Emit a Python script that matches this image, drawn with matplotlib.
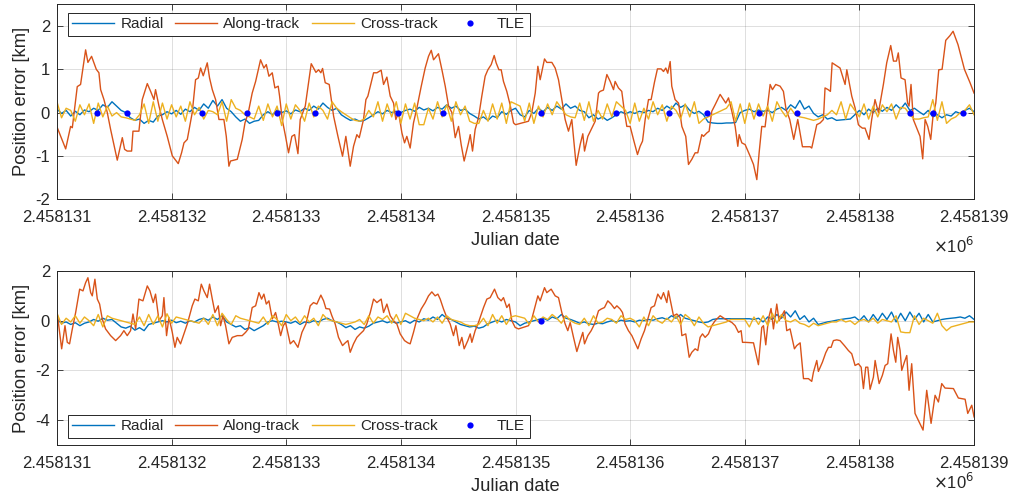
import numpy as np
import matplotlib
matplotlib.use("Agg")
import matplotlib.pyplot as plt

plt.rcParams['font.family'] = ['Liberation Sans', 'DejaVu Sans']
plt.rcParams['axes.unicode_minus'] = False

JD0 = 2458131
xtick_vals = [2458131, 2458132, 2458133, 2458134, 2458135, 2458136, 2458137, 2458138, 2458139]
xtick_labels = ['2.458131', '2.458132', '2.458133', '2.458134', '2.458135',
                '2.458136', '2.458137', '2.458138', '2.458139']

# ---------------- top panel ----------------
top_along_day = [
    0.003, 0.076, 0.119, 0.134, 0.177, 0.206, 0.250, 0.270, 0.302, 0.343, 0.366, 0.381, 0.410, 0.439,
    0.468, 0.526, 0.570, 0.590, 0.613, 0.651, 0.663, 0.715, 0.744, 0.788, 0.817, 0.846, 0.860, 0.890,
    0.919, 0.962, 1.006, 1.058, 1.087, 1.108, 1.137, 1.180, 1.209, 1.233, 1.253, 1.276, 1.311, 1.331,
    1.355, 1.384, 1.413, 1.456, 1.477, 1.500, 1.514, 1.573, 1.587, 1.616, 1.640, 1.669, 1.703, 1.733,
    1.776, 1.805, 1.826, 1.849, 1.878, 1.901, 1.930, 1.942, 1.965, 1.994, 2.020,
    2.049, 2.073, 2.102, 2.122, 2.166, 2.218, 2.238, 2.259, 2.282, 2.302, 2.317, 2.340, 2.375, 2.413,
    2.451, 2.491, 2.520, 2.558, 2.587, 2.616, 2.637, 2.674, 2.695, 2.712, 2.762, 2.791, 2.828, 2.849,
    2.878, 2.907, 2.936, 2.956, 2.980, 3.009, 3.032, 3.052, 3.081, 3.110, 3.140, 3.177, 3.212, 3.241,
    3.265, 3.285, 3.328, 3.358, 3.387, 3.416, 3.445, 3.474, 3.503, 3.526, 3.552, 3.590, 3.605, 3.625,
    3.648, 3.677, 3.706, 3.735, 3.759, 3.788, 3.814, 3.831, 3.855, 3.875, 3.895, 3.924, 3.953, 3.983,
    4.000, 4.113, 4.142, 4.172, 4.195, 4.215, 4.253, 4.273, 4.317, 4.346, 4.375, 4.404, 4.433, 4.462,
    4.491, 4.529, 4.564, 4.587, 4.602, 4.631, 4.660, 4.695, 4.724, 4.738, 4.767, 4.797, 4.826, 4.855,
    4.869, 4.898, 4.927, 4.951, 4.971, 5.000, 5.029, 5.064, 5.087, 5.108, 5.131, 5.160, 5.183, 5.212,
    5.238, 5.270, 5.291, 5.311, 5.328, 5.349, 5.363, 5.392, 5.422, 5.451, 5.485, 5.509, 5.538, 5.567,
    5.590, 5.625, 5.640, 5.669, 5.689, 5.712, 5.741, 5.785, 5.814, 5.834, 5.858, 5.887, 5.916, 5.939,
    5.951, 5.974,
    6.003, 6.047, 6.076, 6.105, 6.125, 6.148, 6.177, 6.221, 6.241, 6.270, 6.308, 6.337, 6.360, 6.392,
    6.427, 6.462, 6.503, 6.570, 6.584, 6.628, 6.657, 6.686, 6.700, 6.727, 6.747, 6.762, 6.831, 6.875,
    6.890, 6.933, 6.962, 6.991, 7.006, 7.026, 7.049, 7.084, 7.107, 7.136, 7.166, 7.209, 7.238, 7.273,
    7.297, 7.323, 7.339, 7.363, 7.398, 7.420, 7.433, 7.450, 7.470, 7.500, 7.529, 7.552, 7.573, 7.596,
    7.622, 7.642, 7.666, 7.692, 7.721, 7.753, 7.790, 7.817, 7.860, 7.916, 7.965, 8.000]
top_along_km = [
    -0.35, -0.84, -0.32, -0.35, 0.60, 0.65, 1.45, 1.16, 1.30, 1.00, 0.92, 0.53, 0.30, 0.00,
    -0.39, -1.10, -0.58, -0.85, -0.89, -0.89, -0.43, -0.43, 0.30, 0.67, 0.49, 0.30, 0.53, 0.15,
    -0.16, -0.55, -1.00, -1.18, -0.93, -0.70, -0.62, 0.00, 0.76, 0.80, 1.03, 0.85, 1.15, 0.80,
    0.53, 0.30, -0.16, -0.16, -0.55, -1.24, -1.12, -1.08, -0.93, -0.62, -0.24, 0.00, 0.45, 0.72,
    1.22, 1.03, 1.11, 0.84, 0.92, 0.57, 0.61, 0.38, -0.16, -0.55, -0.93,
    -0.55, -0.51, -0.95, -0.16, 0.15, 1.13, 1.03, 0.93, 0.99, 0.92, 1.02, 0.69, 0.65, -0.08,
    -0.55, -1.01, -0.55, -1.24, -0.78, -0.51, -0.58, -0.16, 0.30, 0.38, 0.92, 0.92, 0.98, 0.65,
    0.82, 0.38, 0.22, -0.16, 0.00, -0.47, -0.70, -0.55, -0.82, -0.24, 0.11, 0.60, 1.03, 1.30,
    1.44, 1.22, 1.36, 0.99, 0.61, 0.15, 0.00, -0.58, -0.32, -0.74, -1.12, -0.70, -0.51, -0.89,
    -0.39, -0.12, 0.38, 0.84, 0.99, 1.11, 1.32, 1.15, 0.99, 0.99, 0.72, 0.49, 0.18, -0.24,
    -0.28, -0.20, 0.00, 0.45, 1.07, 0.76, 1.24, 1.16, 1.16, 1.03, 0.76, 0.30, -0.16, -0.43,
    -0.16, -1.22, -0.74, -0.49, -0.89, -0.55, -0.39, -0.20, 0.45, 0.49, 0.52, 0.88, 0.72, 0.53,
    0.72, 0.57, 0.49, 0.00, -0.32, -0.32, -0.62, -0.97, -0.78, -0.66, -0.16, 0.30, 0.30, 0.70,
    1.01, 1.01, 0.95, 1.03, 0.91, 1.18, 0.61, 0.30, 0.22, -0.32, -0.55, -1.20, -1.08, -0.93,
    -0.93, -0.51, -0.55, -0.47, -0.43, 0.03, 0.18, 0.42, 0.30, 0.22, 0.34, 0.03, -0.32, -0.78,
    -0.51, -0.70,
    -0.74, -1.01, -1.20, -1.55, -0.93, -0.32, -0.33, 0.65, 0.53, 0.65, 0.61, 0.49, 0.07, -0.16,
    -0.62, -0.16, -0.79, -0.79, -0.82, -0.28, -0.24, -0.16, 0.57, 0.53, 0.49, 1.15, 1.03, 0.65,
    0.99, 0.38, 0.11, -0.28, -0.32, -0.36, -0.36, -0.62, -0.16, 0.30, 0.00, 0.65, 1.15, 1.55,
    1.19, 1.19, 1.38, 0.80, 0.76, 0.22, 0.15, 0.65, -0.16, -0.36, -0.55, -1.07, -0.16, -0.32,
    -0.62, -0.08, 0.22, 0.99, 1.00, 1.67, 1.78, 1.88, 1.57, 1.00, 0.69, 0.45]

top_radial_km = [
    0.08, -0.02, 0.05, -0.08, 0.03, -0.05, 0.06, 0.02, 0.10, 0.05, 0.18, 0.12, 0.25, 0.15, 0.05, 0.00, -0.12, -0.18, -0.15, -0.25, -0.18, -0.22, -0.08, -0.05, 0.02,
    -0.03, 0.05, -0.04, 0.08, 0.02, 0.12, 0.05, 0.20, 0.10, 0.28, 0.15, 0.30, 0.10, 0.02, -0.10, -0.20, -0.15, -0.25, -0.20, -0.18, -0.05, 0.02, -0.05, 0.06, 0.00,
    0.04, -0.03, 0.06, 0.02, 0.10, 0.05, 0.15, 0.08, 0.22, 0.12, 0.05, 0.10, -0.05, -0.12, -0.18, -0.15, -0.20, -0.18, -0.12, -0.05, 0.02, -0.03, 0.05, 0.00, 0.03,
    0.00, 0.05, 0.08, 0.03, 0.12, 0.06, 0.10, 0.04, 0.12, 0.08, 0.18, 0.10, 0.15, 0.05, 0.08, -0.02, -0.08, -0.15, -0.10, -0.18, -0.08, -0.12, 0.02, -0.04, 0.05,
    0.10, -0.05, -0.10, 0.05, -0.02, 0.10, 0.02, 0.12, 0.05, 0.15, 0.08, 0.20, 0.10, 0.15, 0.05, 0.02, -0.12, -0.05, -0.15, -0.10, -0.18, -0.12, -0.05, 0.02, -0.03,
    0.02, -0.02, 0.03, 0.00, 0.05, 0.02, 0.10, 0.05, 0.15, 0.08, 0.22, 0.12, 0.18, 0.05, -0.02, 0.03, -0.05, -0.22, -0.24, -0.25, -0.25, -0.24, -0.24, -0.23, 0.00,
    0.05, 0.08, 0.02, 0.06, 0.03, 0.05, 0.00, 0.08, 0.12, 0.05, 0.18, 0.10, 0.28, 0.08, 0.15, -0.02, -0.10, -0.05, -0.15, -0.12, -0.18, -0.17, -0.16, -0.15, -0.05,
    0.05, -0.05, 0.08, 0.00, 0.10, 0.03, 0.12, 0.05, 0.18, 0.08, 0.22, 0.05, 0.10, 0.02, -0.05, 0.05, -0.10, -0.05, -0.12, -0.05, -0.08, 0.02, -0.02, 0.05, 0.10,
    0.02]
top_cross_km = [
    0.25, -0.12, 0.10, 0.05, -0.20, 0.18, -0.05, 0.20, -0.25, 0.22, -0.10, 0.15, -0.08, 0.00, -0.10, -0.12, -0.15, -0.18, -0.05, 0.20, -0.25, 0.25, -0.20, 0.22, -0.15,
    0.18, -0.10, 0.15, -0.20, 0.25, -0.05, 0.12, -0.15, 0.05, 0.02, -0.05, 0.25, -0.20, 0.30, 0.10, 0.05, -0.05, -0.10, -0.15, 0.15, -0.18, 0.20, -0.10, 0.15, -0.30,
    0.20, -0.15, 0.18, 0.05, -0.20, 0.22, -0.10, 0.15, 0.05, -0.15, 0.25, 0.10, 0.02, -0.05, -0.12, -0.18, -0.20, -0.15, 0.05, -0.10, 0.25, -0.20, 0.20, -0.10, 0.25,
    -0.25, 0.20, -0.15, 0.22, -0.28, -0.28, 0.10, -0.15, 0.25, -0.10, 0.18, -0.20, 0.25, -0.05, 0.15, -0.20, -0.25, -0.25, 0.05, -0.20, 0.20, -0.15, 0.22, -0.25, 0.25,
    0.20, 0.15, -0.20, 0.22, -0.25, 0.15, -0.10, 0.20, -0.05, 0.25, 0.10, -0.05, -0.10, -0.12, 0.22, -0.18, 0.25, -0.20, 0.05, -0.15, 0.20, -0.10, 0.25, 0.15, 0.05,
    -0.25, 0.22, -0.20, 0.10, -0.15, 0.25, -0.05, 0.18, -0.20, 0.15, 0.05, -0.15, 0.20, -0.10, 0.25, -0.25, -0.15, -0.10, -0.05, 0.00, 0.05, 0.10, 0.25, -0.20, 0.20,
    -0.25, 0.22, -0.15, 0.20, -0.08, 0.15, -0.20, 0.25, 0.05, -0.10, 0.10, -0.05, -0.10, -0.12, -0.15, -0.18, -0.15, -0.10, -0.05, 0.05, -0.05, 0.25, -0.15, 0.20, 0.05,
    -0.10, 0.20, -0.15, 0.15, -0.10, 0.18, 0.02, 0.20, -0.15, 0.12, 0.10, -0.05, -0.15, -0.15, -0.12, -0.10, 0.30, -0.18, 0.25, -0.25, -0.15, -0.10, 0.00, 0.05, 0.18,
    -0.05]
top_tle_day = [0.346, 0.608, 1.268, 1.661, 1.922, 2.251, 2.978, 3.366, 4.223, 4.878,
               5.340, 5.669, 6.126, 6.457, 7.443, 7.638, 7.903]

# ---------------- bottom panel ----------------
bot_along_day = [
    0.003, 0.023, 0.041, 0.070, 0.090, 0.110, 0.134, 0.163, 0.198, 0.227, 0.250, 0.270, 0.294, 0.308,
    0.331, 0.352, 0.372, 0.395, 0.424, 0.468, 0.512, 0.555, 0.584, 0.613, 0.642, 0.663, 0.686, 0.715,
    0.750, 0.788, 0.811, 0.840, 0.860, 0.890, 0.919, 0.933, 0.956, 0.977, 1.006, 1.029, 1.049, 1.078,
    1.108, 1.137, 1.180, 1.203, 1.233, 1.259, 1.282, 1.311, 1.331, 1.355, 1.378, 1.407, 1.427, 1.448,
    1.471, 1.500, 1.529, 1.573, 1.616, 1.645, 1.669, 1.703, 1.733, 1.762, 1.785, 1.805, 1.826, 1.849,
    1.878, 1.907, 1.930, 1.951, 1.974, 1.994,
    2.035, 2.064, 2.102, 2.137, 2.172, 2.209, 2.238, 2.267, 2.302, 2.326, 2.346, 2.378, 2.398, 2.427,
    2.456, 2.491, 2.515, 2.538, 2.558, 2.587, 2.616, 2.645, 2.674, 2.703, 2.733, 2.762, 2.791, 2.828,
    2.849, 2.878, 2.907, 2.936, 2.965, 2.994, 3.032, 3.061, 3.081, 3.110, 3.140, 3.177, 3.212, 3.241,
    3.270, 3.299, 3.323, 3.343, 3.372, 3.401, 3.430, 3.459, 3.480, 3.509, 3.532, 3.552, 3.584, 3.605,
    3.619, 3.648, 3.677, 3.721, 3.750, 3.779, 3.817, 3.846, 3.875, 3.895, 3.924, 3.945, 3.968, 3.997,
    4.026, 4.113, 4.142, 4.172, 4.195, 4.215, 4.253, 4.273, 4.311, 4.346, 4.375, 4.404, 4.433, 4.456,
    4.477, 4.506, 4.535, 4.564, 4.587, 4.602, 4.631, 4.660, 4.689, 4.724, 4.747, 4.776, 4.805, 4.834,
    4.863, 4.884, 4.913, 4.933, 4.956, 4.985, 5.015, 5.044, 5.067, 5.096, 5.125, 5.154, 5.183, 5.212,
    5.241, 5.270, 5.291, 5.320, 5.334, 5.355, 5.378, 5.407, 5.436, 5.451, 5.485, 5.515, 5.538, 5.567,
    5.590, 5.610, 5.631, 5.654, 5.683, 5.712, 5.741, 5.785, 5.828, 5.858, 5.887, 5.916, 5.945, 5.968,
    5.980,
    6.003, 6.076, 6.119, 6.148, 6.163, 6.183, 6.206, 6.229, 6.250, 6.279, 6.299, 6.323, 6.346, 6.366,
    6.395, 6.433, 6.453, 6.483, 6.512, 6.555, 6.584, 6.599, 6.628, 6.642, 6.677, 6.706, 6.730, 6.753,
    6.773, 6.802, 6.831, 6.869, 6.904, 6.933, 6.962, 6.991, 7.015, 7.035, 7.055, 7.073, 7.093, 7.122,
    7.137, 7.172, 7.200, 7.224, 7.247, 7.276, 7.297, 7.317, 7.334, 7.355, 7.369, 7.392, 7.413, 7.433,
    7.456, 7.485, 7.555, 7.587, 7.625, 7.660, 7.689, 7.718, 7.747, 7.820, 7.863, 7.922, 7.945, 7.980,
    8.000]
bot_along_km = [
    0.27, -0.47, -1.13, -0.20, -0.87, -0.93, -0.33, 0.33, 1.27, 1.20, 1.53, 1.73, 1.13, 1.00,
    1.67, 0.87, 0.67, 0.07, -0.33, -0.60, -0.80, -0.60, -0.40, -0.60, -0.40, 0.27, -0.33, 0.87,
    0.80, 1.40, 1.20, 0.73, 1.07, 0.00, 0.20, 0.93, -0.60, 0.13, -0.47, -1.07, -0.67, -0.93,
    -0.53, -0.13, 0.60, 0.87, 0.80, 1.47, 1.20, 0.93, 1.47, 0.87, 0.33, 0.60, -0.20, 0.20,
    -0.20, -0.93, -0.67, -0.60, -0.60, -0.47, -0.33, 0.53, 0.60, 1.13, 0.87, 1.07, 0.67, 0.80,
    0.07, 0.33, -0.13, -0.60, -0.20, -0.07,
    -0.93, -0.80, -1.07, -0.47, -0.13, 0.60, 0.73, 0.67, 1.03, 0.80, 0.49, 0.47, 0.20, -0.13,
    -0.67, -1.00, -0.89, -0.80, -1.27, -0.93, -0.67, -0.53, -0.40, -0.13, 0.33, 0.87, 0.73, 0.87,
    0.33, 0.67, 0.20, 0.00, -0.13, -0.53, -0.80, -0.89, -0.93, -0.47, 0.07, 0.47, 0.73, 1.00,
    1.16, 1.00, 1.07, 0.87, 0.47, 0.13, -0.13, -0.60, -0.20, -1.00, -0.67, -1.13, -0.80, -0.53,
    -0.87, -0.40, -0.07, 0.53, 0.87, 0.93, 1.27, 0.93, 0.80, 0.93, 0.53, 0.67, 0.00, -0.27,
    -0.33, -0.20, 0.07, 0.60, 1.00, 0.80, 1.33, 1.13, 1.27, 1.00, 0.93, 0.33, -0.13, -0.40,
    -0.07, -0.67, -1.24, -0.80, -0.47, -0.93, -0.60, -0.40, -0.13, 0.40, 0.47, 0.53, 0.80, 0.67,
    0.49, 0.60, 0.47, 0.33, -0.13, -0.40, -0.60, -0.89, -1.13, -0.73, -0.40, 0.07, 0.53, 0.60,
    1.07, 0.87, 1.13, 0.73, 1.20, 0.73, 0.20, 0.27, 0.13, -0.60, -0.53, -1.47, -1.27, -1.13,
    -1.20, -0.67, -0.53, -0.67, -0.53, -0.20, 0.00, 0.20, 0.07, 0.00, -0.07, -0.20, -0.47, -0.40,
    -0.87,
    -0.87, -0.89, -1.77, -0.27, -0.20, -0.97, 0.07, 0.49, -0.33, 0.67, 0.00, 0.20, 0.40, -0.40,
    -0.33, -1.13, -1.00, -0.89, -2.33, -2.33, -2.44, -2.07, -1.60, -2.04, -1.67, -1.29, -1.07, -1.07,
    -0.80, -0.77, -0.80, -1.00, -1.20, -1.33, -1.80, -1.73, -1.87, -2.73, -1.87, -1.87, -2.76, -2.27,
    -1.60, -2.53, -2.20, -1.80, -1.73, -0.53, -1.20, -1.67, -0.67, -1.20, -2.00, -1.67, -1.40, -2.80,
    -1.73, -3.73, -4.40, -2.80, -4.13, -3.00, -3.27, -2.53, -2.71, -2.73, -3.11, -3.16, -3.73, -3.40,
    -3.87]

bot_radial_km = [
    0.05, -0.10, -0.05, -0.15, -0.08, -0.20, -0.10, -0.05, 0.05, -0.02, 0.10, 0.02, 0.05, -0.10, -0.25, -0.30, -0.22, -0.38, -0.28, -0.40, -0.15, -0.10, -0.05, 0.00, -0.05,
    0.02, -0.08, -0.02, -0.10, 0.00, -0.05, 0.05, 0.10, 0.02, 0.15, 0.05, 0.20, -0.05, -0.15, -0.25, -0.20, -0.35, -0.28, -0.40, -0.30, -0.20, -0.05, 0.00, -0.05, -0.02,
    -0.05, -0.10, -0.02, -0.15, -0.05, -0.08, 0.00, -0.05, 0.05, 0.10, 0.00, -0.05, -0.15, -0.28, -0.20, -0.35, -0.25, -0.30, -0.22, -0.10, -0.05, 0.00, -0.08, -0.02, -0.10,
    -0.05, 0.00, -0.10, 0.02, -0.05, 0.08, 0.02, 0.15, 0.05, 0.25, 0.10, 0.05, -0.05, -0.15, -0.20, -0.25, -0.22, -0.30, -0.25, -0.12, -0.05, 0.02, -0.05, 0.05, 0.00,
    -0.05, -0.20, -0.10, -0.05, 0.00, 0.05, 0.10, 0.02, 0.15, 0.08, 0.25, 0.10, 0.05, -0.02, -0.10, -0.05, -0.12, -0.15, -0.10, -0.12, -0.05, 0.00, -0.05, 0.02, -0.02,
    0.00, -0.05, 0.02, 0.00, 0.05, 0.02, 0.08, 0.12, 0.05, 0.20, 0.10, 0.25, 0.10, 0.05, 0.00, -0.05, -0.08, -0.05, 0.05, 0.08, 0.08, 0.08, 0.08, 0.08, 0.08,
    0.08, 0.08, 0.05, 0.10, -0.05, 0.15, 0.05, 0.25, 0.10, 0.35, 0.15, 0.40, 0.05, 0.20, -0.05, 0.10, -0.15, -0.10, -0.05, -0.02, 0.02, 0.05, 0.08, 0.10, 0.15,
    0.00, 0.20, -0.05, 0.25, 0.00, 0.30, 0.05, 0.35, -0.05, 0.30, 0.00, 0.35, 0.05, 0.30, -0.05, 0.25, -0.05, 0.00, 0.05, 0.08, 0.10, 0.12, 0.15, 0.10, 0.20,
    0.05]
bot_cross_km = [
    0.30, -0.15, 0.10, -0.05, 0.20, -0.10, 0.15, 0.00, -0.20, 0.25, -0.25, 0.20, 0.10, 0.05, 0.00, -0.05, -0.10, -0.15, 0.15, -0.20, 0.25, -0.15, 0.20, -0.25, 0.28,
    -0.10, 0.15, 0.10, 0.05, 0.00, -0.05, -0.10, 0.10, -0.15, 0.25, -0.20, 0.30, 0.05, -0.15, 0.20, 0.10, 0.05, 0.00, -0.05, -0.10, 0.15, -0.15, 0.20, 0.05, -0.20,
    0.25, 0.00, 0.15, -0.10, 0.20, -0.05, 0.10, -0.20, 0.25, 0.05, 0.00, -0.05, -0.10, -0.15, -0.10, -0.05, 0.05, -0.15, 0.20, -0.10, 0.15, 0.05, 0.20, -0.10, 0.25,
    -0.15, 0.30, 0.20, 0.10, 0.05, 0.00, 0.10, -0.05, 0.15, -0.10, 0.20, 0.05, 0.00, -0.05, -0.15, -0.20, -0.20, -0.15, 0.10, -0.20, 0.25, -0.10, 0.20, -0.15, 0.15,
    0.20, 0.15, 0.10, -0.15, 0.20, -0.05, 0.15, 0.05, 0.25, 0.10, -0.10, 0.20, 0.00, -0.10, -0.15, 0.10, -0.20, 0.20, -0.10, -0.05, 0.10, 0.05, -0.10, 0.20, 0.05,
    0.10, 0.00, -0.25, 0.15, -0.20, 0.20, 0.00, -0.10, 0.10, -0.05, 0.20, -0.15, 0.25, 0.10, -0.20, 0.15, -0.10, -0.25, -0.20, -0.15, -0.10, -0.05, 0.05, 0.05, 0.05,
    0.05, -0.25, 0.15, -0.15, 0.20, -0.20, 0.30, -0.10, 0.25, 0.00, -0.05, 0.05, -0.10, -0.15, -0.25, -0.10, -0.20, -0.15, -0.10, -0.05, -0.05, 0.05, -0.05, 0.00, -0.15,
    0.00, 0.05, -0.05, 0.10, -0.10, 0.05, 0.00, -0.05, 0.20, -0.45, -0.48, -0.48, 0.20, -0.15, 0.10, 0.00, -0.10, 0.30, -0.20, -0.40, -0.25, -0.20, -0.15, -0.10, -0.05,
    -0.05]
bot_tle_day = [4.223]

# sampling times for radial / cross-track (every 0.04 day)
grid_day = np.arange(len(top_radial_km)) * 0.04

C_RAD = '#0072BD'
C_ALG = '#D95319'
C_CRS = '#EDB120'
TXT = '#262626'

fig = plt.figure(figsize=(10.19, 4.94), dpi=100)
ax1 = fig.add_axes([0.0559, 0.597, 0.9000, 0.394])
ax2 = fig.add_axes([0.0559, 0.0992, 0.9000, 0.3522])


def draw(ax, rad, alg_d, alg, crs, tle_d, ylim, yticks, legloc, anchor, exp_y):
    ax.plot(JD0 + grid_day, rad, color=C_RAD, lw=1.0, label='Radial')
    ax.plot(JD0 + np.array(alg_d), alg, color=C_ALG, lw=1.0, label='Along-track')
    ax.plot(JD0 + grid_day, crs, color=C_CRS, lw=1.0, label='Cross-track')
    ax.plot(JD0 + np.array(tle_d), np.zeros(len(tle_d)), 'o', color='#0000FF', ms=4.5,
            mec='none', label='TLE')
    ax.set_xlim(xtick_vals[0], xtick_vals[-1])
    ax.set_ylim(*ylim)
    ax.set_xticks(xtick_vals)
    ax.set_xticklabels(xtick_labels)
    ax.set_yticks(yticks)
    ax.set_yticklabels([str(v) for v in yticks])
    ax.grid(True, color=TXT, alpha=0.15, lw=0.7)
    ax.set_axisbelow(True)
    ax.tick_params(direction='in', length=4, width=0.6, top=True, right=True,
                   labelsize=12, colors=TXT, pad=5)
    ax.tick_params(axis='x', pad=8)
    for s in ax.spines.values():
        s.set_color(TXT)
        s.set_linewidth(0.7)
    ax.set_xlabel('Julian date', fontsize=13.2, color=TXT, labelpad=5)
    ax.set_ylabel('Position error [km]', fontsize=13.2, color=TXT, labelpad=4)
    ax.text(1.0, exp_y, r'$\times$10$^{6}$', transform=ax.transAxes, ha='right',
            va='center', fontsize=12, color=TXT)
    leg = ax.legend(loc=legloc, bbox_to_anchor=anchor, ncol=4, fontsize=11,
                    frameon=True, fancybox=False, framealpha=1, edgecolor='#262626',
                    handlelength=2.75, handletextpad=0.4, columnspacing=0.75,
                    borderaxespad=0, borderpad=0.3)
    leg.get_frame().set_linewidth(0.7)
    for t in leg.get_texts():
        t.set_color(TXT)


draw(ax1, top_radial_km, top_along_day, top_along_km, top_cross_km, top_tle_day,
     (-2, 2.5), [-2, -1, 0, 1, 2], 'upper left', (0.0117, 0.957), -0.24)
draw(ax2, bot_radial_km, bot_along_day, bot_along_km, bot_cross_km, bot_tle_day,
     (-5, 2), [-4, -2, 0, 2], 'lower left', (0.0117, 0.042), -0.215)

fig.savefig('out.png', dpi=100)
